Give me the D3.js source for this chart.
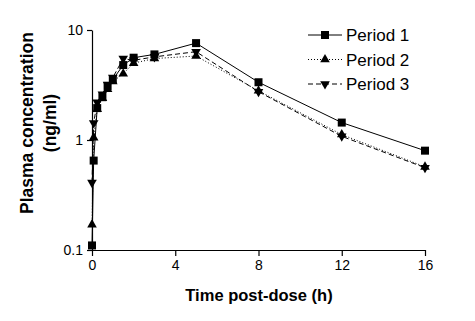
<!DOCTYPE html>
<html>
<head>
<meta charset="utf-8">
<script src="https://cdn.jsdelivr.net/npm/d3@7"></script>
<style>
  body { margin: 0; background: #fff; }
  svg { font-family: Arial, "Liberation Sans", sans-serif; }
</style>
</head>
<body>
<svg id="chart" width="475" height="321"></svg>
<script>
// sampling times (h) and mean concentrations (ng/ml) per period
const times = [0, 0.08, 0.25, 0.5, 0.75, 1, 1.5, 2, 3, 5, 8, 12, 16];
const period1 = [0.11, 0.65, 1.95, 2.45, 3.1, 3.55, 4.8, 5.6, 6.0, 7.6, 3.35, 1.44, 0.8];
const period2 = [0.17, 1.05, 1.9, 2.4, 2.9, 3.4, 4.0, 5.0, 5.5, 5.8, 2.8, 1.12, 0.57];
const period3 = [0.41, 1.43, 2.2, 2.6, 3.2, 3.7, 5.5, 5.3, 5.7, 6.35, 2.75, 1.08, 0.56];
const seriesNames = ['Period 1', 'Period 2', 'Period 3'];
const xTicks = [0, 4, 8, 12, 16];
const yTicks = [0.1, 1, 10];

const svg = d3.select('#chart');

const x = d3.scaleLinear().domain([0, 16]).range([92, 425]);
const y = d3.scaleLog().domain([0.1, 10]).range([250, 30]);

const styles = [
  { dash: null, symbol: d3.symbolSquare, size: 64, rotate: 0 },
  { dash: '1,2', symbol: d3.symbolTriangle, size: 40, rotate: 0 },
  { dash: '5,3', symbol: d3.symbolTriangle, size: 40, rotate: 180 }
];

const series = [period1, period2, period3].map((vals, i) => ({
  name: seriesNames[i],
  style: styles[i],
  points: times.map((t, j) => ({ t, v: vals[j] }))
}));

// axes
const xAxis = d3.axisBottom(x).tickValues(xTicks).tickSize(6).tickSizeOuter(0);
const yAxis = d3.axisLeft(y).tickValues(yTicks).tickFormat(d3.format('')).tickSize(5).tickSizeOuter(0);

const gx = svg.append('g').attr('transform', 'translate(0,250)').call(xAxis);
const gy = svg.append('g').attr('transform', 'translate(92,0)').call(yAxis);

[gx, gy].forEach(g => {
  g.select('.domain').attr('stroke', '#000').attr('stroke-width', 1.2);
  g.selectAll('.tick line').attr('stroke', '#000').attr('stroke-width', 1.2);
  g.selectAll('.tick text')
    .attr('fill', '#000')
    .style('font-size', '14px')
    .style('font-family', 'Arial, "Liberation Sans", sans-serif');
});
gx.selectAll('.tick text').attr('dy', '0.9em').attr('y', 7);
gy.selectAll('.tick text').attr('x', -9);

// axis titles
svg.append('text')
  .attr('x', 259)
  .attr('y', 301)
  .attr('text-anchor', 'middle')
  .style('font-size', '16.5px')
  .style('font-weight', 'bold')
  .text('Time post-dose (h)');

const yTitle = svg.append('text')
  .attr('transform', 'translate(33,123) rotate(-90)')
  .attr('text-anchor', 'middle')
  .style('font-size', '17.5px')
  .style('font-weight', 'bold');
yTitle.append('tspan').attr('x', 0).attr('y', 0).text('Plasma concentration');
yTitle.append('tspan').attr('x', 0).attr('y', 23).text('(ng/ml)');

// lines and markers
const line = d3.line().x(d => x(d.t)).y(d => y(d.v));

series.forEach(s => {
  svg.append('path')
    .datum(s.points)
    .attr('d', line)
    .attr('fill', 'none')
    .attr('stroke', '#000')
    .attr('stroke-width', 1)
    .attr('stroke-dasharray', s.style.dash);
});

series.forEach(s => {
  svg.append('g')
    .selectAll('path')
    .data(s.points)
    .enter()
    .append('path')
    .attr('d', d3.symbol().type(s.style.symbol).size(s.style.size))
    .attr('transform', d => `translate(${x(d.t)},${y(d.v)}) rotate(${s.style.rotate})`)
    .attr('fill', '#000');
});

// legend
const legend = svg.append('g').attr('transform', 'translate(308,35)');
series.forEach((s, i) => {
  const row = legend.append('g').attr('transform', `translate(0,${i * 24.5})`);
  row.append('line')
    .attr('x1', 0).attr('x2', 34)
    .attr('stroke', '#000')
    .attr('stroke-width', 1)
    .attr('stroke-dasharray', s.style.dash);
  row.append('path')
    .attr('d', d3.symbol().type(s.style.symbol).size(s.style.size))
    .attr('transform', `translate(17,0) rotate(${s.style.rotate})`)
    .attr('fill', '#000');
  row.append('text')
    .attr('x', 38)
    .attr('y', 6)
    .style('font-size', '17px')
    .text(s.name);
});
</script>
</body>
</html>
